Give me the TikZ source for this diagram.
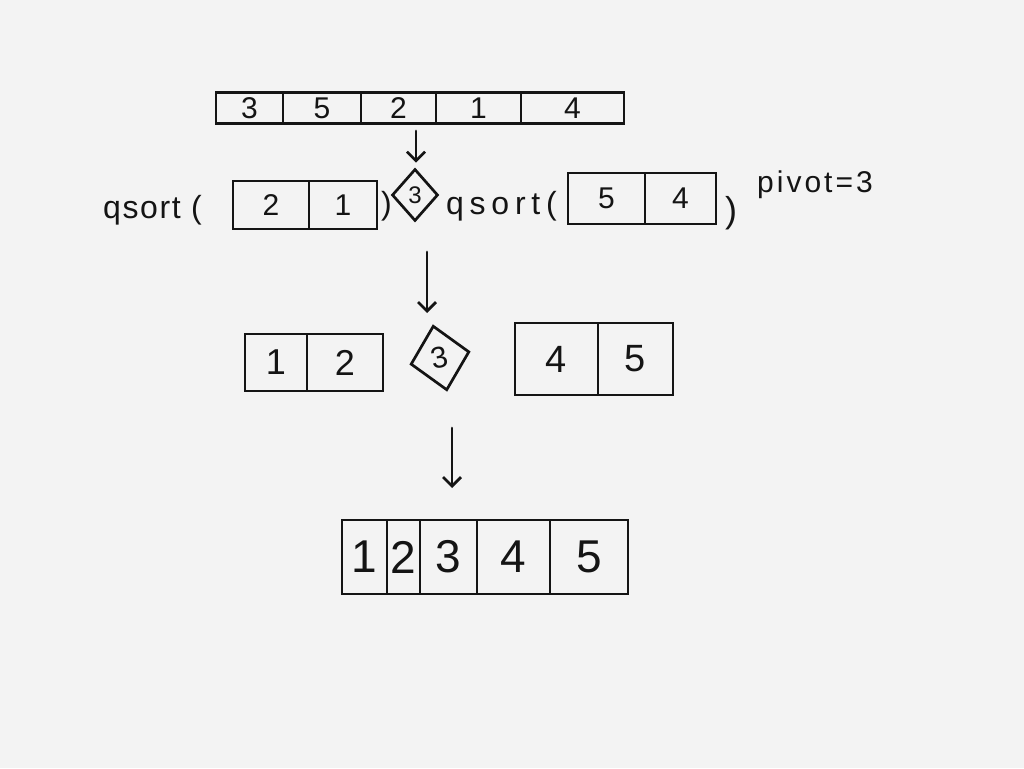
\documentclass[tikz,border=0pt]{standalone}
\usepackage{fontspec}
\setmainfont{Liberation Sans}
\usetikzlibrary{shapes.geometric,arrows.meta}
\definecolor{paper}{RGB}{243,243,243}
\definecolor{ink}{RGB}{20,20,20}
\begin{document}
\begin{tikzpicture}[x=1pt,y=-1pt,
  every node/.style={text=ink},
  cell/.style={draw=ink,line width=2.7pt,inner sep=0pt,rectangle,anchor=center},
  pivotbox/.style={draw=ink,line width=2.7pt,diamond,inner sep=0pt,font=\fontsize{24}{26}\selectfont},
  stroke/.style={draw=ink,line width=2.7pt,line cap=round},
  flow/.style={stroke,-{Straight Barb[length=9pt,width=18pt,line width=2.7pt]}},
  label/.style={inner sep=0pt,anchor=base west,font=\fontsize{32}{36}\selectfont}]
  % paper
  \fill[paper] (0,0) rectangle (1024,768);
  \useasboundingbox (0,0) rectangle (1024,768);

  % input array
  \begin{scope}[every node/.append style={font=\fontsize{30}{32}\selectfont,minimum height=31pt}]
    \node[cell,minimum width=67pt]  (t1) at (249.5,108) {3};
    \node[cell,minimum width=78pt]  (t2) at (322,108)   {5};
    \node[cell,minimum width=75pt]  (t3) at (398.5,108) {2};
    \node[cell,minimum width=85pt]  (t4) at (478.5,108) {1};
    \node[cell,minimum width=103pt] (t5) at (572.5,108) {4};
  \end{scope}

  % partition step: qsort(left) pivot qsort(right)
  \node[label] (q1) at (103,218) {\addfontfeature{LetterSpace=5}qsort (};
  \begin{scope}[every node/.append style={font=\fontsize{30}{32}\selectfont,minimum height=48pt}]
    \node[cell,minimum width=76pt] (l1) at (271,205) {2};
    \node[cell,minimum width=68pt] (l2) at (343,205) {1};
  \end{scope}
  \node[label] (c1) at (381,214) {)};
  \node[pivotbox,minimum width=46pt,minimum height=52pt] (d1) at (415,195) {3};
  \node[label] (q2) at (446,214) {\addfontfeature{LetterSpace=18}qsort(};
  \begin{scope}[every node/.append style={font=\fontsize{30}{32}\selectfont,minimum height=51pt}]
    \node[cell,minimum width=77pt] (r1) at (606.5,198.5) {5};
    \node[cell,minimum width=71pt] (r2) at (680.5,198.5) {4};
  \end{scope}
  \node[label,font=\fontsize{36}{40}\selectfont] (c2) at (725,222) {)};
  \node[label,font=\fontsize{30}{34}\selectfont] (pv) at (757,192) {\addfontfeature{LetterSpace=10}pivot=3};

  % sorted halves
  \begin{scope}[every node/.append style={font=\fontsize{36}{38}\selectfont,minimum height=57pt}]
    \node[cell,minimum width=62pt] (m1) at (276,362.5) {1};
    \node[cell,minimum width=76pt] (m2) at (345,362.5) {2};
  \end{scope}
  \node[pivotbox,minimum width=60pt,minimum height=66pt,rotate=12,font=\fontsize{30}{32}\selectfont] (d2) at (440,358) {3};
  \begin{scope}[every node/.append style={font=\fontsize{38}{40}\selectfont,minimum height=72pt}]
    \node[cell,minimum width=83pt] (n1) at (556.5,359) {4};
    \node[cell,minimum width=75pt] (n2) at (635.5,359) {5};
  \end{scope}

  % merged result
  \begin{scope}[every node/.append style={font=\fontsize{46}{48}\selectfont,minimum height=74pt}]
    \node[cell,minimum width=45pt] (s1) at (364.5,557) {1};
    \node[cell,minimum width=33pt] (s2) at (403.5,557) {2};
    \node[cell,minimum width=57pt] (s3) at (448.5,557) {3};
    \node[cell,minimum width=73pt] (s4) at (513.5,557) {4};
    \node[cell,minimum width=78pt] (s5) at (589,557)   {5};
  \end{scope}

  % step arrows
  \coordinate (a1) at (416,131);
  \draw[flow,shorten >=5pt] (a1) -- (a1 |- d1.north);
  \coordinate (a2s) at (427,252);
  \coordinate (a2e) at (427,313);
  \draw[flow] (a2s) -- (a2e);
  \coordinate (a3s) at (452,428);
  \coordinate (a3e) at (452,488);
  \draw[flow] (a3s) -- (a3e);
\end{tikzpicture}
\end{document}
